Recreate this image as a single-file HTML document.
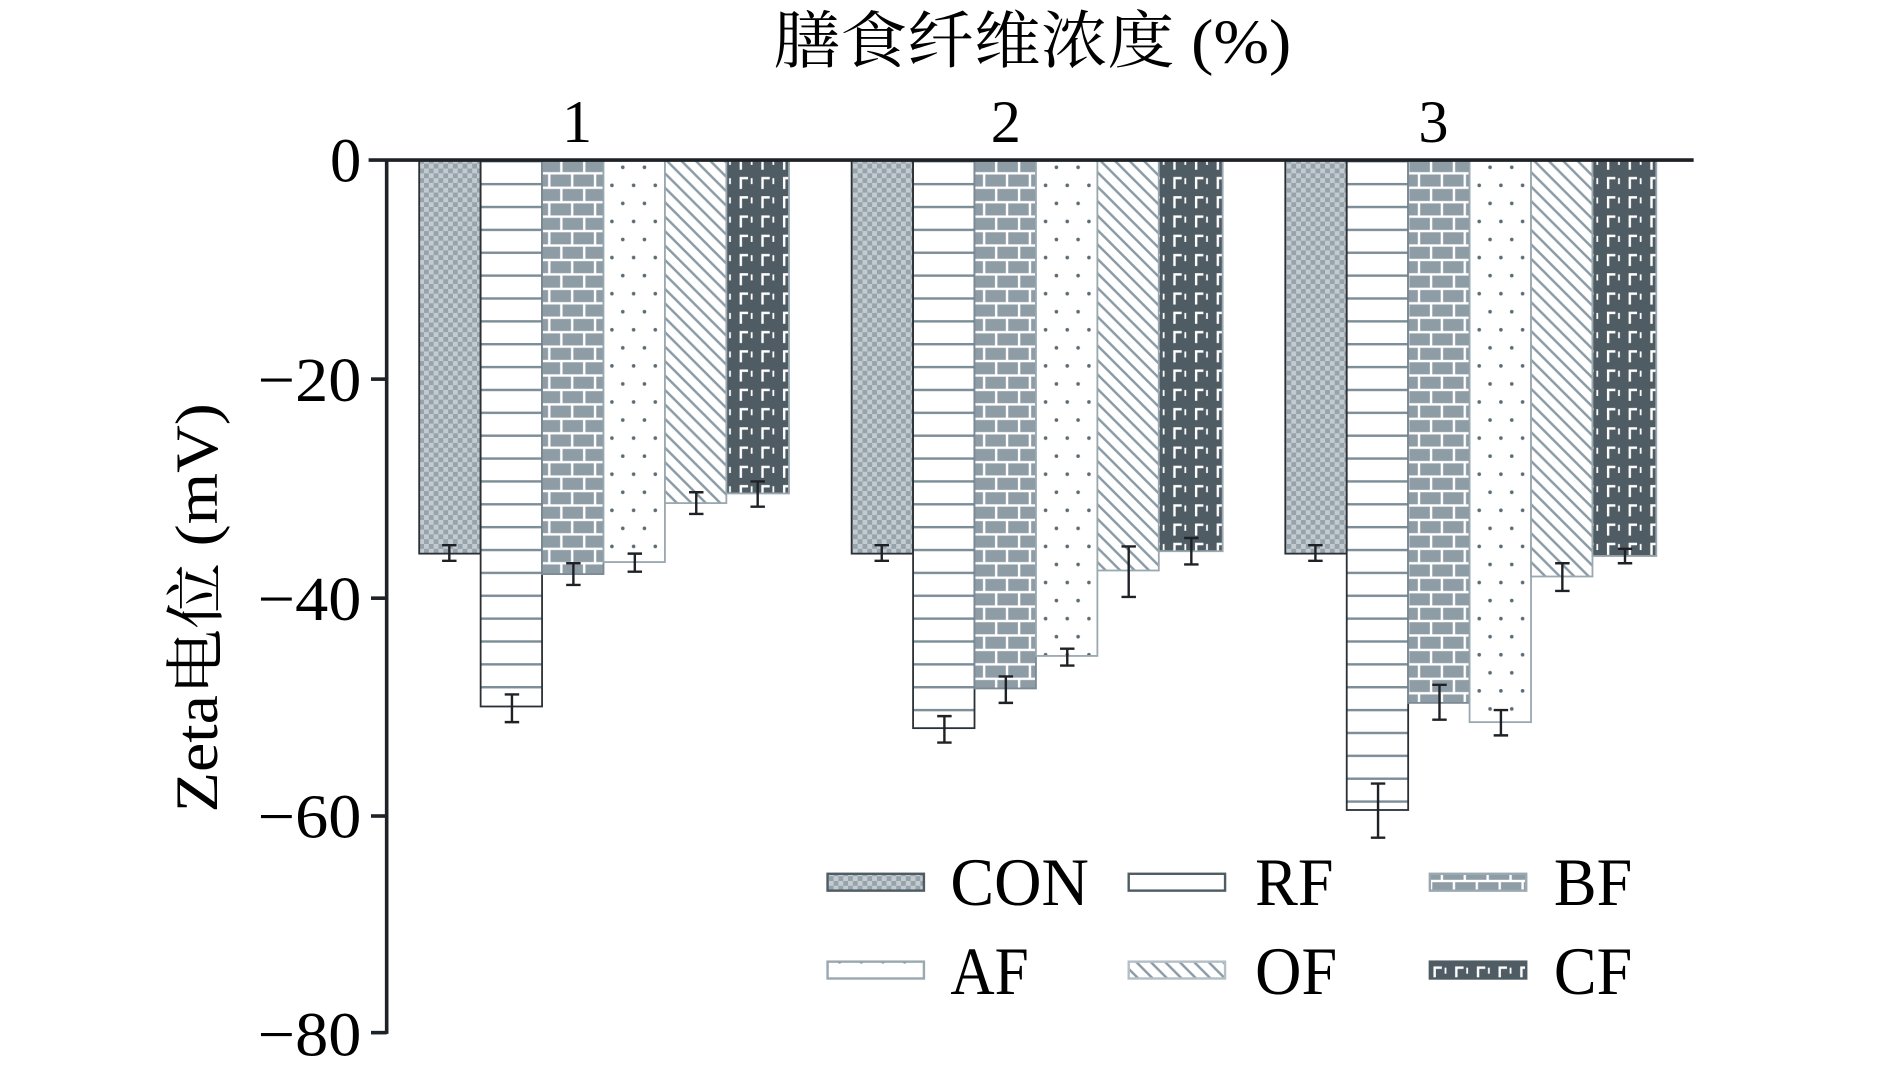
<!DOCTYPE html>
<html><head><meta charset="utf-8"><style>html,body{margin:0;padding:0;background:#fff;}svg{display:block}</style></head>
<body>
<svg width="1890" height="1082" viewBox="0 0 1569 899" preserveAspectRatio="none" xmlns="http://www.w3.org/2000/svg">
<defs>
<pattern id="con" width="8" height="8" patternUnits="userSpaceOnUse"><rect width="8" height="8" fill="#c3cbd0"/><rect width="4" height="4" fill="#97a3ab"/><rect x="4" y="4" width="4" height="4" fill="#97a3ab"/></pattern>
<pattern id="rf" width="10" height="19" patternUnits="userSpaceOnUse"><rect width="10" height="19" fill="#fff"/><rect y="0" width="10" height="2" fill="#7c8d98"/></pattern>
<pattern id="bf" width="38" height="24" patternUnits="userSpaceOnUse"><rect width="38" height="24" fill="#fff"/><rect x="1" y="1" width="17" height="10" fill="#8e9ca6"/><rect x="20" y="1" width="17" height="10" fill="#8e9ca6"/><rect x="-8" y="13" width="17" height="10" fill="#8e9ca6"/><rect x="11" y="13" width="17" height="10" fill="#8e9ca6"/><rect x="30" y="13" width="17" height="10" fill="#8e9ca6"/></pattern>
<pattern id="af" width="18" height="30" patternUnits="userSpaceOnUse"><rect width="18" height="30" fill="#fff"/><circle cx="4" cy="4" r="1.5" fill="#5c6b74"/><circle cx="13" cy="19" r="1.5" fill="#5c6b74"/></pattern>
<pattern id="of" width="12" height="12" patternUnits="userSpaceOnUse"><rect width="12" height="12" fill="#fff"/><path d="M-3,-3 L15,15 M-3,9 L3,15 M9,-3 L15,3" stroke="#8a9ba5" stroke-width="2"/></pattern>
<pattern id="cf" width="18" height="16" patternUnits="userSpaceOnUse"><rect width="18" height="16" fill="#4f5c64"/><path d="M3,13 V4 H9" stroke="#fff" stroke-width="2" fill="none"/><path d="M12,9 V4" stroke="#fff" stroke-width="1.5"/></pattern>
</defs>
<g font-family="'Liberation Serif','Noto Serif CJK SC',serif" fill="#000">
<text x="642" y="52" font-size="52" textLength="430" lengthAdjust="spacingAndGlyphs">膳食纤维浓度 (%)</text>
<text x="479" y="118" font-size="50" text-anchor="middle">1</text>
<text x="835" y="118" font-size="50" text-anchor="middle">2</text>
<text x="1190" y="118" font-size="50" text-anchor="middle">3</text>
<g font-size="52" text-anchor="end">
<text x="300" y="151" textLength="26" lengthAdjust="spacingAndGlyphs">0</text>
<text x="300" y="333" textLength="86" lengthAdjust="spacingAndGlyphs">−20</text>
<text x="300" y="515" textLength="86" lengthAdjust="spacingAndGlyphs">−40</text>
<text x="300" y="696" textLength="86" lengthAdjust="spacingAndGlyphs">−60</text>
<text x="300" y="877" textLength="86" lengthAdjust="spacingAndGlyphs">−80</text>
</g>
<text transform="translate(180,505) rotate(-90)" font-size="50" text-anchor="middle" textLength="340" lengthAdjust="spacingAndGlyphs">Zeta电位 (mV)</text>
</g>
<g stroke="#2b3035" stroke-width="1.5">
<rect x="348" y="133" width="51" height="327" fill="url(#con)"/>
<rect x="399" y="133" width="51" height="454" fill="url(#rf)"/>
<rect x="450" y="133" width="51" height="344" fill="url(#bf)" stroke="#7b8a94"/>
<rect x="501" y="133" width="51" height="334" fill="url(#af)" stroke="#9aa8b0"/>
<rect x="552" y="133" width="51" height="285" fill="url(#of)" stroke="#9aa8b0"/>
<rect x="603" y="133" width="52" height="277" fill="url(#cf)" stroke="#9aa8b0"/>
<rect x="707" y="133" width="51" height="327" fill="url(#con)"/>
<rect x="758" y="133" width="51" height="472" fill="url(#rf)"/>
<rect x="809" y="133" width="51" height="439" fill="url(#bf)" stroke="#7b8a94"/>
<rect x="860" y="133" width="51" height="412" fill="url(#af)" stroke="#9aa8b0"/>
<rect x="911" y="133" width="51" height="341" fill="url(#of)" stroke="#9aa8b0"/>
<rect x="962" y="133" width="53" height="325" fill="url(#cf)" stroke="#9aa8b0"/>
<rect x="1067" y="133" width="51" height="327" fill="url(#con)"/>
<rect x="1118" y="133" width="51" height="540" fill="url(#rf)"/>
<rect x="1169" y="133" width="51" height="451" fill="url(#bf)" stroke="#7b8a94"/>
<rect x="1220" y="133" width="51" height="467" fill="url(#af)" stroke="#9aa8b0"/>
<rect x="1271" y="133" width="51" height="346" fill="url(#of)" stroke="#9aa8b0"/>
<rect x="1322" y="133" width="53" height="329" fill="url(#cf)" stroke="#9aa8b0"/>
</g>
<g stroke="#1e2226" stroke-width="2" fill="none">
<path d="M373,453V466M367,453H379M367,466H379"/>
<path d="M425,577V600M419,577H431M419,600H431"/>
<path d="M476,468V486M470,468H482M470,486H482"/>
<path d="M527,460V475M521,460H533M521,475H533"/>
<path d="M578,409V427M572,409H584M572,427H584"/>
<path d="M629,400V421M623,400H635M623,421H635"/>
<path d="M732,453V466M726,453H738M726,466H738"/>
<path d="M784,595V617M778,595H790M778,617H790"/>
<path d="M835,562V584M829,562H841M829,584H841"/>
<path d="M886,539V553M880,539H892M880,553H892"/>
<path d="M937,454V496M931,454H943M931,496H943"/>
<path d="M989,447V469M983,447H995M983,469H995"/>
<path d="M1092,453V466M1086,453H1098M1086,466H1098"/>
<path d="M1144,651V696M1138,651H1150M1138,696H1150"/>
<path d="M1195,569V598M1189,569H1201M1189,598H1201"/>
<path d="M1246,590V611M1240,590H1252M1240,611H1252"/>
<path d="M1297,468V491M1291,468H1303M1291,491H1303"/>
<path d="M1349,456V468M1343,456H1355M1343,468H1355"/>
</g>
<g stroke="#1e2226" stroke-width="3">
<line x1="306" y1="133" x2="1406" y2="133"/>
<line x1="321" y1="133" x2="321" y2="859"/>
<line x1="308" y1="315" x2="321" y2="315"/>
<line x1="308" y1="497" x2="321" y2="497"/>
<line x1="308" y1="678" x2="321" y2="678"/>
<line x1="308" y1="858" x2="321" y2="858"/>
</g>
<g stroke-width="2">
<rect x="687" y="726" width="80" height="14" fill="url(#con)" stroke="#4f5c64"/>
<rect x="937" y="726" width="80" height="14" fill="#fff" stroke="#4f5c64"/>
<rect x="1187" y="726" width="80" height="14" fill="url(#bf)" stroke="#9aa8b0"/>
<rect x="687" y="799" width="80" height="14" fill="url(#af)" stroke="#9aa8b0"/>
<rect x="937" y="799" width="80" height="14" fill="url(#of)" stroke="#b5c0c6"/>
<rect x="1187" y="799" width="80" height="14" fill="url(#cf)" stroke="#4f5c64"/>
</g>
<g font-family="'Liberation Serif',serif" font-size="56" fill="#000">
<text x="789" y="752" textLength="115" lengthAdjust="spacingAndGlyphs">CON</text>
<text x="1042" y="752" textLength="65" lengthAdjust="spacingAndGlyphs">RF</text>
<text x="1290" y="752" textLength="65" lengthAdjust="spacingAndGlyphs">BF</text>
<text x="789" y="826" textLength="65" lengthAdjust="spacingAndGlyphs">AF</text>
<text x="1042" y="826" textLength="68" lengthAdjust="spacingAndGlyphs">OF</text>
<text x="1290" y="826" textLength="65" lengthAdjust="spacingAndGlyphs">CF</text>
</g>
</svg>
</body></html>
